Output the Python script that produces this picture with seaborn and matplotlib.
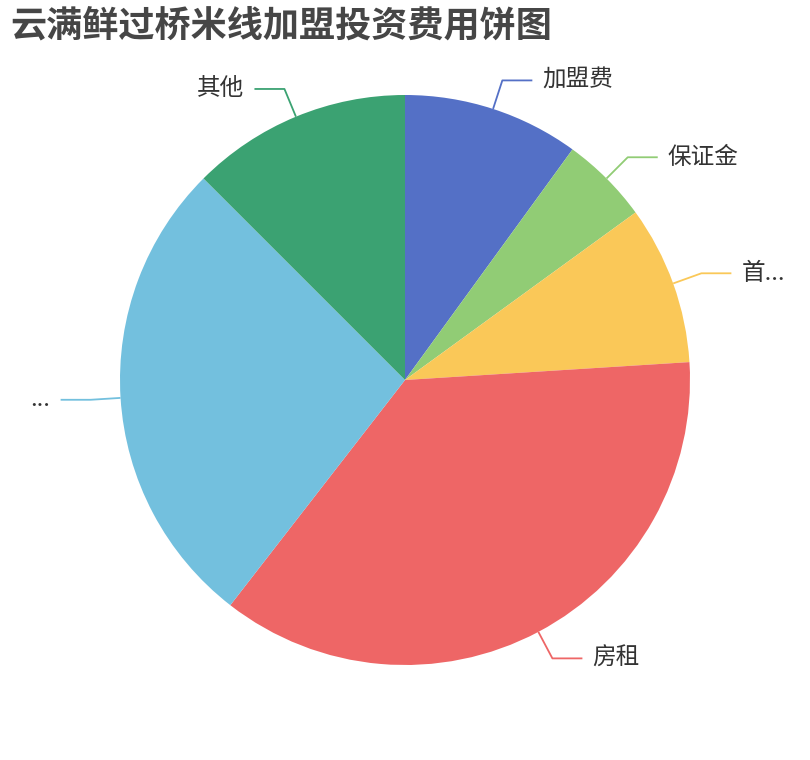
import matplotlib.pyplot as plt
import numpy as np
import seaborn as sns

# 数据
categories = ["加盟费", "保证金", "首...", "房租", "...", "其他"]
values = [2.0, 1.0, 1.8, 7.3, 5.4, 2.5]
colors = ["#5470c6", "#91cc75", "#fac858", "#ee6666", "#73c0de", "#3ba272"]
title = "云满鲜过桥米线加盟投资费用饼图"

sns.set_theme(style="white")
plt.rcParams["font.family"] = ["Noto Sans CJK SC", "DejaVu Sans"]

W, H = 810, 760
R = 285  # 饼图半径(像素)
cx, cy = 405, 380

fig = plt.figure(figsize=(W / 100, H / 100), dpi=100)
ax = fig.add_axes([0, 0, 1, 1])

wedges, _ = ax.pie(
    values,
    colors=colors,
    startangle=90,
    counterclock=False,
    radius=1,
    center=(0, 0),
    wedgeprops=dict(linewidth=0),
    frame=True,
)
ax.set_xlim(-cx / R, (W - cx) / R)
ax.set_ylim(-(H - cy) / R, cy / R)
ax.set_aspect("auto")
ax.axis("off")

# 引导线和标签
total = sum(values)
start = 0.0
r2 = 315 / R
seg = 30 / R
gap = 10 / R
for name, v, c in zip(categories, values, colors):
    mid = np.deg2rad((start + v / 2) / total * 360)
    start += v
    sx, sy = np.sin(mid), np.cos(mid)
    x1, y1 = sx * r2, sy * r2
    side = 1 if sx >= 0 else -1
    x2 = x1 + side * seg
    ax.plot([sx, x1, x2], [sy, y1, y1], color=c, lw=1.3, solid_capstyle="butt")
    ax.text(
        x2 + side * gap,
        y1,
        name,
        ha="left" if side > 0 else "right",
        va="center",
        fontsize=17,
        color="#333333",
    )

fig.text(10 / W, 1 - 26 / H, title, fontsize=26, fontweight="bold",
         color="#464646", ha="left", va="center")

fig.savefig("out.png", dpi=100)
